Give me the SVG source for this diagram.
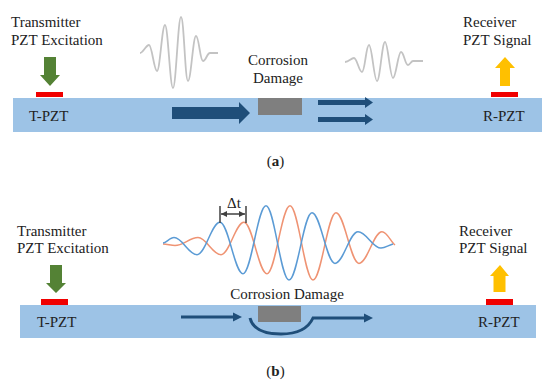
<svg xmlns="http://www.w3.org/2000/svg" width="550" height="383" viewBox="0 0 550 383">
<defs>
<style>
text{font-family:"Liberation Serif","Times New Roman",serif;fill:#222;font-size:15px}
.plate{fill:#9dc3e6}
.pzt{fill:#f00000}
.dmg{fill:#7f7f7f}
.green{fill:#548235}
.yellow{fill:#ffc000}
.flow{fill:#1f4e79}
.flowline{fill:none;stroke:#1f4e79;stroke-width:3}
.gw{fill:none;stroke:#c3c3c3;stroke-width:1.8}
.bw{fill:none;stroke:#5b9bd5;stroke-width:1.5}
.ow{fill:none;stroke:#ef9373;stroke-width:1.5}
.dt{fill:none;stroke:#404040;stroke-width:1.5}
</style>
<marker id="dtA" viewBox="0 0 6 6" refX="6" refY="3" markerWidth="6" markerHeight="6" orient="auto-start-reverse" markerUnits="userSpaceOnUse">
<path d="M0,0 L6,3 L0,6 z" fill="#404040"/>
</marker>
</defs>
<rect width="550" height="383" fill="#fff"/>

<!-- Panel (a) -->
<g id="a-plate"><rect class="plate" x="13" y="98" width="529" height="34"/></g>
<g id="a-transmitter">
<text x="11" y="27">Transmitter</text>
<text x="11" y="45">PZT Excitation</text>
<polygon class="green" points="44,57 56,57 56,75 60,75 50,86 40,75 44,75"/>
<rect class="pzt" x="36" y="92" width="27" height="5"/>
<text x="29" y="121">T-PZT</text>
</g>
<g id="a-damage">
<rect class="dmg" x="258" y="98" width="44" height="17"/>
<text x="278" y="65" text-anchor="middle">Corrosion</text>
<text x="278" y="83" text-anchor="middle">Damage</text>
</g>
<g id="a-receiver">
<text x="463" y="27">Receiver</text>
<text x="463" y="45">PZT Signal</text>
<polygon class="yellow" points="505,57 515,68 510,68 510,86 500,86 500,68 495,68"/>
<rect class="pzt" x="491" y="92" width="27" height="5"/>
<text x="483" y="121">R-PZT</text>
</g>
<g id="a-waves">
<path class="gw" d="M140,53 C143,53 146,45 149,45 C152,45 154,71 157,71 C160,71 162,25 165,25 C168,25 170,88 173,88 C176,88 178,17 181,17 C184,17 185,81 188,81 C191,81 193,36 196,36 C199,36 200,61 203,61 C206,61 207,53 210,53 L218,53"/>
<path class="gw" d="M345,62 C349,62 351,58 354,58 C357,58 359,72 362,72 C365,72 366,45 369,45 C372,45 374,81 377,81 C380,81 382,42 385,42 C388,42 390,78 393,78 C396,78 398,52 401,52 C404,52 405,65 408,65 C410,65 411,61 413,61 L423,61"/>
</g>
<g id="a-connectors">
<polygon class="flow" points="172,107 239,107 239,102 250,113 239,124 239,119 172,119"/>
<polygon class="flow" points="318,100 365,100 365,97 373,102.5 365,108 365,105 318,105"/>
<polygon class="flow" points="318,117 365,117 365,114 373,119.5 365,125 365,122 318,122"/>
</g>
<text x="275.5" y="166" text-anchor="middle" font-size="14">(<tspan font-weight="bold">a</tspan>)</text>

<!-- Panel (b) -->
<g id="b-plate"><rect class="plate" x="20" y="305" width="516" height="33"/></g>
<g id="b-transmitter">
<text x="17" y="236">Transmitter</text>
<text x="17" y="253">PZT Excitation</text>
<polygon class="green" points="50,265 62,265 62,283 66,283 56,293 46,283 50,283"/>
<rect class="pzt" x="41" y="299" width="27" height="6"/>
<text x="37" y="327">T-PZT</text>
</g>
<g id="b-damage">
<rect class="dmg" x="258" y="306" width="43" height="16"/>
<text x="287" y="299" text-anchor="middle">Corrosion Damage</text>
</g>
<g id="b-receiver">
<text x="459" y="236">Receiver</text>
<text x="459" y="253">PZT Signal</text>
<polygon class="yellow" points="500,265 509,276 505.5,276 505.5,292 493.5,292 493.5,276 490,276"/>
<rect class="pzt" x="486" y="299" width="27" height="6"/>
<text x="478" y="327">R-PZT</text>
</g>
<g id="b-waves">
<path class="ow" d="M163,244 C167,244 171,245.5 175,245.5 C183.4,245.5 189.6,237.6 198,237.6 C206.4,237.6 212.6,254.7 221,254.7 C229.4,254.7 235.6,222.2 244,222.2 C252.4,222.2 258.6,273.7 267,273.7 C275.4,273.7 281.6,205.8 290,205.8 C298.4,205.8 304.6,280 313,280 C321.4,280 327.6,212.7 336,212.7 C344.4,212.7 350.6,263.4 359,263.4 C367.4,263.4 373.6,231.7 382,231.7 C387,231.7 391,242 395,245"/>
<path class="bw" d="M163,243 C166,243 170,237.6 174,237.6 C182.4,237.6 188.6,254.7 197,254.7 C205.4,254.7 211.6,222.2 220,222.2 C228.4,222.2 234.6,273.7 243,273.7 C251.4,273.7 257.6,205.8 266,205.8 C274.4,205.8 280.6,280 289,280 C297.4,280 303.6,212.7 312,212.7 C320.4,212.7 326.6,263.4 335,263.4 C343.4,263.4 349.6,231.7 358,231.7 C366.4,231.7 372.6,248.1 381,248.1 C385,248.1 389,245 393,244"/>
</g>
<g id="b-dt">
<line class="dt" x1="220" y1="206" x2="220" y2="223"/>
<line class="dt" x1="246" y1="206" x2="246" y2="223"/>
<line class="dt" x1="221" y1="214" x2="245" y2="214" stroke-width="1" marker-start="url(#dtA)" marker-end="url(#dtA)"/>
<text x="234" y="208" text-anchor="middle" font-size="13">Δt</text>
</g>
<g id="b-connectors">
<line class="flowline" x1="181" y1="317" x2="234" y2="317"/>
<polygon class="flow" points="233,312.5 242,317 233,321.5"/>
<path class="flowline" d="M250,318 C253,330 265,334 281,334 C297,334 308,329 313,318 L366,318"/>
<polygon class="flow" points="364,313.5 373,318 364,322.5"/>
</g>
<text x="275.5" y="376" text-anchor="middle" font-size="14">(<tspan font-weight="bold">b</tspan>)</text>
</svg>
